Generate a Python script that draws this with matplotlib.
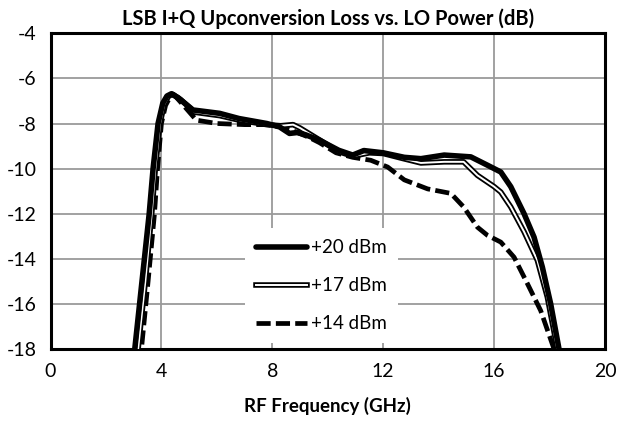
import matplotlib
matplotlib.use('Agg')
import matplotlib.pyplot as plt
from matplotlib.legend_handler import HandlerTuple

plt.rcParams['font.family'] = ['Lato', 'DejaVu Sans']
plt.rcParams['axes.unicode_minus'] = False

# +20 dBm LO
x20 = [2.9, 3.04, 3.3, 3.56, 3.7, 3.88, 4.05, 4.2, 4.36, 4.6, 5.14, 6.1, 6.8, 7.8, 8.26, 8.62, 8.9, 9.2,
       9.7, 10.4, 10.9, 11.3, 12.0, 12.76, 13.36, 14.2, 15.16, 15.76, 16.24, 16.6, 17.08, 17.44, 17.74,
       18.04, 18.34, 18.45]
y20 = [-19.5, -18, -15, -12, -10, -8, -7.1, -6.78, -6.68, -6.85, -7.4, -7.55, -7.78, -8.0, -8.15, -8.44,
       -8.4, -8.5, -8.74, -9.19, -9.4, -9.2, -9.3, -9.5, -9.56, -9.4, -9.48, -9.85, -10.15, -10.8, -12,
       -13.04, -14.37, -16, -18, -18.7]

# +17 dBm LO
x17 = [3.0, 3.16, 3.42, 3.65, 3.78, 3.95, 4.1, 4.25, 4.4, 4.7, 5.2, 6.1, 6.8, 7.8, 8.3, 8.75, 9.0, 9.4,
       9.8, 10.4, 10.9, 11.5, 12.0, 12.7, 13.36, 14.2, 14.9, 15.4, 16.0, 16.24, 16.6, 17.08, 17.56,
       17.92, 18.28, 18.4]
y17 = [-19.5, -18, -15, -12, -10, -8, -7.15, -6.8, -6.7, -6.95, -7.5, -7.65, -7.85, -8.05, -8.1, -8.05,
       -8.2, -8.5, -8.8, -9.25, -9.45, -9.3, -9.33, -9.55, -9.75, -9.7, -9.7, -10.3, -10.8, -11.04,
       -11.7, -12.8, -14.07, -15.7, -18, -18.8]

# +14 dBm LO
x14 = [3.1, 3.28, 3.52, 3.75, 3.86, 4.0, 4.15, 4.3, 4.45, 4.8, 5.26, 6.0, 7.0, 7.8, 8.3, 8.8, 9.3, 9.7,
       10.3, 10.9, 11.55, 12.16, 12.76, 13.6, 14.44, 14.9, 15.4, 15.76, 16.24, 16.72, 17.2, 17.68,
       18.16, 18.3]
y14 = [-19.5, -18, -15, -12, -10, -8, -7.2, -6.85, -6.72, -7.2, -7.85, -8.0, -8.05, -8.05, -8.15, -8.35,
       -8.6, -8.85, -9.3, -9.5, -9.63, -9.93, -10.5, -10.9, -11.1, -11.7, -12.6, -12.96, -13.26, -13.93,
       -15.1, -16.3, -18, -18.6]

labels = ['+20 dBm', '+17 dBm', '+14 dBm']
xticks = [0, 4, 8, 12, 16, 20]
yticks = [-18, -16, -14, -12, -10, -8, -6, -4]

fig = plt.figure(figsize=(6.22, 4.26), dpi=100)
ax = fig.add_axes([0.0812, 0.1808, 0.8915, 0.741])

l20, = ax.plot(x20, y20, color='black', lw=4.0, solid_joinstyle='round', solid_capstyle='round', zorder=5)
l17a, = ax.plot(x17, y17, color='black', lw=4.0, solid_joinstyle='round', zorder=4)
l17b, = ax.plot(x17, y17, color='white', lw=1.4, solid_joinstyle='round', zorder=4)
l14, = ax.plot(x14, y14, color='black', lw=3.4, linestyle=(0, (3, 1.1)), zorder=3)

ax.set_xlim(0, 20)
ax.set_ylim(-18, -4)
ax.set_xticks(xticks)
ax.set_yticks(yticks)
ax.grid(True, color='#9a9a9a', lw=1.3)
ax.set_axisbelow(True)
ax.tick_params(length=0, labelsize=14, pad=10)
for s in ax.spines.values():
    s.set_linewidth(2.2)
    s.set_color('black')

ax.set_title('LSB I+Q Upconversion Loss vs. LO Power (dB)', fontsize=14.5, fontweight='bold', pad=6)
ax.set_xlabel('RF Frequency (GHz)', fontsize=13.5, fontweight='bold', labelpad=12)

leg = ax.legend([l20, (l17a, l17b), l14], labels, handler_map={tuple: HandlerTuple(ndivide=1, pad=0)},
                loc='lower left', bbox_to_anchor=(0.334, -0.012), fontsize=13.5, handlelength=2.7,
                handletextpad=0.2, labelspacing=1.12, frameon=True, fancybox=False,
                borderpad=0.6)
leg.get_frame().set_facecolor('white')
leg.get_frame().set_edgecolor('none')
leg.get_frame().set_alpha(1)
leg.set_zorder(6)

fig.savefig('out.png', dpi=100)
